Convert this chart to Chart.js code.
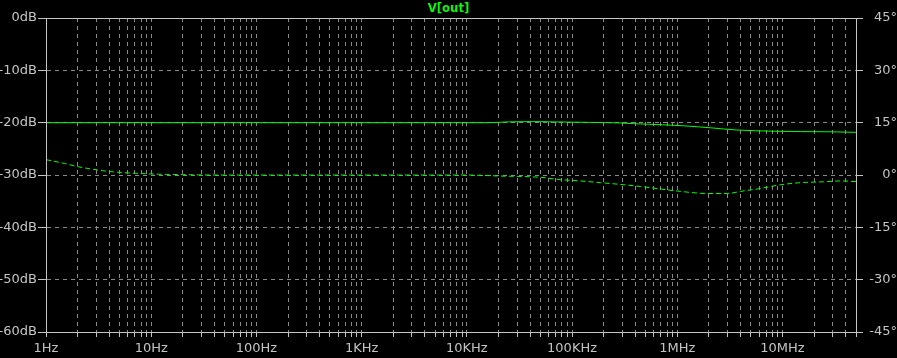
<!DOCTYPE html>
<html>
<head>
<meta charset="utf-8">
<script src="https://cdn.jsdelivr.net/npm/chart.js@4"></script>
<style>
  html, body { margin: 0; padding: 0; background: #000; }
  #wrap { width: 897px; height: 358px; }
</style>
</head>
<body>
<div id="wrap"><canvas id="c" width="897" height="358"></canvas></div>
<script>
// ---- data ----
const traceName = 'V[out]';
const magFreq = [1, 10, 100, 1000, 10000, 16000, 25000, 50000, 65000, 150000, 280000, 392000, 723000, 1150000, 1590000, 2110000, 2750000, 3650000, 5500000, 9000000, 14800000, 30000000, 50000000];
const magDb   = [-20, -20, -20, -20, -20, -20, -19.85, -19.8, -19.85, -19.95, -20.05, -20.2, -20.4, -20.6, -20.8, -21.0, -21.2, -21.4, -21.55, -21.65, -21.7, -21.75, -21.85];
const phaseFreq = [1, 1.5, 2, 3, 4, 6, 10, 20, 40, 1000, 10000, 20800, 40000, 56000, 69000, 120000, 186000, 288000, 447000, 648000, 1070000, 1940000, 3000000, 3990000, 5790000, 9580000, 14800000, 24500000, 35600000, 50000000];
const phaseDeg  = [4.4, 3.3, 2.4, 1.5, 1.0, 0.6, 0.3, 0.1, 0, 0, 0, -0.3, -0.5, -0.8, -1.2, -1.7, -2.2, -2.7, -3.3, -3.9, -4.7, -5.3, -5.3, -4.7, -4.0, -2.8, -2.2, -1.95, -1.7, -1.9];
const decadeLabels = ['1Hz', '10Hz', '100Hz', '1KHz', '10KHz', '100KHz', '1MHz', '10MHz'];
const freqMin = 1, freqMax = 50000000;
const dbTicks = [0, -10, -20, -30, -40, -50, -60];
const degTicks = [45, 30, 15, 0, -15, -30, -45];

// ---- styles ----
const AXIS = '#c4c4c4';
const GRID = '#8a8a8a';
const GREEN = '#00ff00';
const FONT = { family: 'DejaVu Sans', size: 13 };

const frame = {
  id: 'frame',
  afterDraw(chart) {
    const a = chart.chartArea, ctx = chart.ctx;
    ctx.save();
    ctx.setLineDash([]);
    ctx.strokeStyle = AXIS;
    ctx.lineWidth = 1;
    ctx.strokeRect(Math.round(a.left) + 0.5, Math.round(a.top) + 0.5,
                   Math.round(a.right - a.left), Math.round(a.bottom - a.top));
    ctx.restore();
  }
};

new Chart(document.getElementById('c'), {
  type: 'line',
  data: {
    datasets: [
      {
        label: 'mag',
        data: magFreq.map((f, i) => ({ x: f, y: magDb[i] })),
        yAxisID: 'y',
        borderColor: GREEN,
        borderWidth: 1,
        pointRadius: 0,
        cubicInterpolationMode: 'monotone',
        fill: false
      },
      {
        label: 'phase',
        data: phaseFreq.map((f, i) => ({ x: f, y: phaseDeg[i] })),
        yAxisID: 'y2',
        borderColor: GREEN,
        borderWidth: 1,
        borderDash: [5, 3],
        pointRadius: 0,
        cubicInterpolationMode: 'monotone',
        fill: false
      }
    ]
  },
  options: {
    responsive: false,
    animation: false,
    devicePixelRatio: 1,
    layout: { padding: 0 },
    plugins: {
      legend: { display: false },
      tooltip: { enabled: false },
      title: {
        display: true,
        text: traceName,
        color: GREEN,
        font: { family: 'DejaVu Sans Condensed', size: 13, weight: 'bold', lineHeight: 18 / 13 },
        padding: 0
      }
    },
    scales: {
      x: {
        type: 'logarithmic',
        min: freqMin,
        max: freqMax,
        afterBuildTicks(scale) {
          const t = [];
          for (let e = 0; e <= 7; e++) {
            for (let m = 1; m <= 9; m++) {
              const v = m * Math.pow(10, e);
              if (v <= freqMax) t.push({ value: v });
            }
          }
          scale.ticks = t;
        },
        afterFit(scale) { scale.height = 26; },
        border: { display: true, color: AXIS, dash: [4, 4] },
        grid: {
          color: GRID,
          tickColor: AXIS,
          tickLength: 5,
          tickBorderDash: []
        },
        ticks: {
          autoSkip: false,
          maxRotation: 0,
          color: AXIS,
          font: FONT,
          padding: 4,
          callback(value) {
            const e = Math.log10(value);
            const r = Math.round(e);
            if (Math.abs(e - r) < 1e-9 && r < decadeLabels.length) return decadeLabels[r];
            return '';
          }
        }
      },
      y: {
        position: 'left',
        min: -60,
        max: 0,
        afterBuildTicks(scale) { scale.ticks = dbTicks.map(v => ({ value: v })); },
        afterFit(scale) { scale.width = 46; },
        border: { display: true, color: AXIS, dash: [4, 4] },
        grid: {
          color: GRID,
          tickColor: AXIS,
          tickLength: 8,
          tickBorderDash: []
        },
        ticks: {
          color: AXIS,
          font: FONT,
          padding: 1,
          callback: v => v + 'dB'
        }
      },
      y2: {
        position: 'right',
        min: -45,
        max: 45,
        afterBuildTicks(scale) { scale.ticks = degTicks.map(v => ({ value: v })); },
        afterFit(scale) { scale.width = 41; },
        border: { display: true, color: AXIS },
        grid: {
          drawOnChartArea: false,
          tickColor: AXIS,
          tickLength: 7,
          tickBorderDash: []
        },
        ticks: {
          color: AXIS,
          font: FONT,
          padding: 2,
          crossAlign: 'far',
          callback: v => v + '°'
        }
      }
    }
  },
  plugins: [frame]
});
</script>
</body>
</html>
